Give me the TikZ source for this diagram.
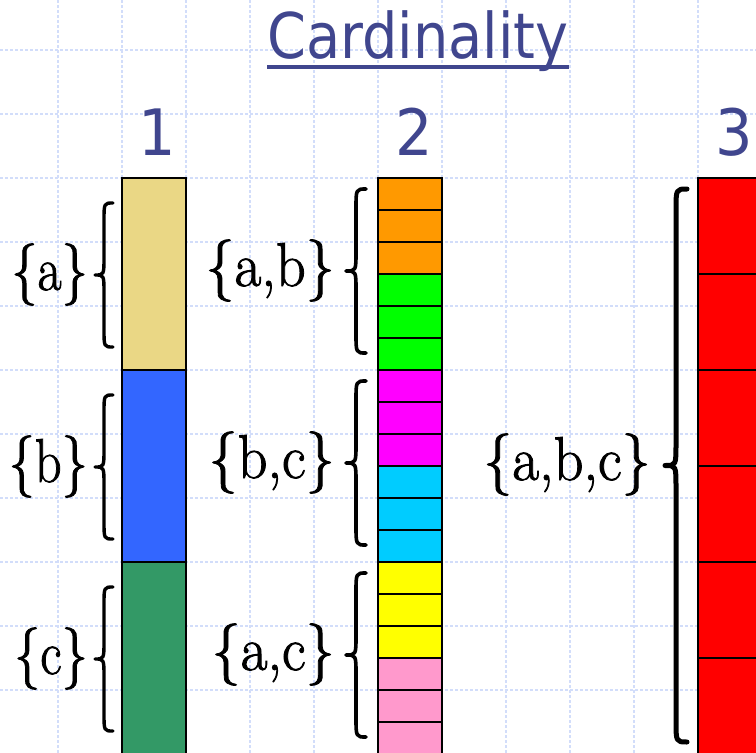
\documentclass[tikz,border=0pt]{standalone}
\usepackage{fontspec}
\newfontfamily\titlefont{DejaVu Sans}
\newfontfamily\lblfont{Latin Modern Roman}[FakeBold=1.4]
\definecolor{titleblue}{RGB}{64,70,142}
\definecolor{gridblue}{RGB}{210,221,250}
\definecolor{khaki}{RGB}{234,215,133}
\definecolor{cblue}{RGB}{51,102,255}
\definecolor{cgreen}{RGB}{51,153,102}
\definecolor{corange}{RGB}{255,153,0}
\definecolor{clime}{RGB}{0,255,0}
\definecolor{cmag}{RGB}{255,0,255}
\definecolor{ccyan}{RGB}{0,204,255}
\definecolor{cyell}{RGB}{255,255,0}
\definecolor{cpink}{RGB}{255,153,204}
\definecolor{cred}{RGB}{255,0,0}
\tikzset{
  gridline/.style={gridblue, line width=1.6pt, dash pattern=on 3pt off 2pt},
  cellbox/.style={draw=black, line width=2.4pt},
  ttl/.style={text=titleblue, font=\titlefont\fontsize{63}{63}\selectfont, inner sep=0pt, xscale=0.885},
  num/.style={text=titleblue, font=\titlefont\fontsize{64}{64}\selectfont, inner sep=0pt, xscale=0.92},
  lbl/.style={text=black, font=\lblfont\fontsize{62}{62}\selectfont, inner sep=0pt, anchor=base east, xscale=0.94},
  lblnarrow/.style={lbl, xscale=0.9},
  brc/.style={draw=black, line cap=round, line join=round},
}
\newcommand\mybrace[5]{% xe, top, bottom, w, lw
  \pgfmathsetmacro\bxv{#1-#4/2}%
  \pgfmathsetmacro\bxt{#1-#4}%
  \pgfmathsetmacro\bmid{(#2+#3)/2}%
  \draw[brc, line width=#5] (#1,#2) .. controls (\bxv,#2) .. (\bxv,#2+#4)
    -- (\bxv,\bmid-#4) .. controls (\bxv,\bmid) .. (\bxt,\bmid)
    .. controls (\bxv,\bmid) .. (\bxv,\bmid+#4)
    -- (\bxv,#3-#4) .. controls (\bxv,#3) .. (#1,#3);}
\begin{document}
\begin{tikzpicture}[x=1pt,y=-1pt]
\useasboundingbox (0,0) rectangle (756,753);
\clip (0,0) rectangle (756,753);
\fill[white] (0,0) rectangle (756,753);
% grid
\foreach \gx in {58,122,...,698} \draw[gridline] (\gx,0) -- (\gx,753);
\foreach \gy in {50,114,...,690} \draw[gridline] (0,\gy) -- (756,\gy);
% title
\node[ttl, anchor=base] (title) at (418,58) {Cardinality};
\draw[titleblue, line width=3.2pt] ([yshift=-9pt]title.base west) -- ([yshift=-9pt]title.base east);
% column numbers
\node[num, anchor=base] (n1) at (157,155) {1};
\node[num, anchor=base] (n2) at (414,155) {2};
\node[num, anchor=base] (n3) at (734,155) {3};
% column 1
\foreach \c [count=\i from 0] in {khaki,cblue,cgreen}
  \filldraw[cellbox, fill=\c] (122,178+192*\i) rectangle (186,178+192*\i+192);
% column 2
\foreach \c [count=\i from 0] in {corange,corange,corange,clime,clime,clime,cmag,cmag,cmag,ccyan,ccyan,ccyan,cyell,cyell,cyell,cpink,cpink,cpink}
  \filldraw[cellbox, fill=\c] (378,178+32*\i) rectangle (442,178+32*\i+32);
% column 3
\foreach \i in {0,...,5}
  \filldraw[cellbox, fill=cred] (698,178+96*\i) rectangle (780,178+96*\i+96);
% braces column 1
\mybrace{113}{203}{347}{18}{3.4pt}
\mybrace{113}{395}{539}{18}{3.4pt}
\mybrace{113}{587}{731}{18}{3.4pt}
% braces column 2
\mybrace{366}{189}{353}{20}{3.6pt}
\mybrace{366}{381}{545}{20}{3.6pt}
\mybrace{366}{573}{737}{20}{3.6pt}
% brace column 3
\mybrace{687}{189}{742}{22}{5pt}
% labels
\node[lblnarrow] (la) at (88,290) {\{a\}};
\node[lblnarrow] (lb) at (88,482) {\{b\}};
\node[lblnarrow] (lc) at (88,674) {\{c\}};
\node[lbl] (lab) at (335,286) {\{a,b\}};
\node[lbl] (lbc) at (335,478) {\{b,c\}};
\node[lbl] (lac) at (335,670) {\{a,c\}};
\node[lbl] (labc) at (651,480) {\{a,b,c\}};
\end{tikzpicture}
\end{document}
